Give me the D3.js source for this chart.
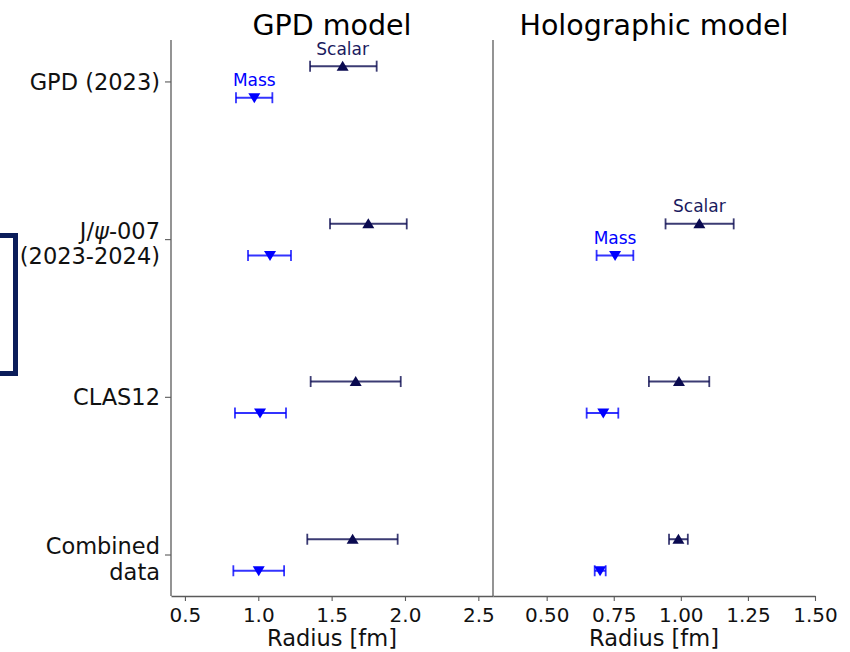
<!DOCTYPE html>
<html>
<head>
<meta charset="utf-8">
<script src="https://cdn.jsdelivr.net/npm/d3@7"></script>
<style>
  html, body { margin: 0; padding: 0; background: #fff; }
  text { font-family: "DejaVu Sans", sans-serif; }
</style>
</head>
<body>
<svg id="chart" width="850" height="652"></svg>
<script>
// ---------- data ----------
const categories = ["GPD (2023)", "J/ψ-007|(2023-2024)", "CLAS12", "Combined|data"];
const catIndex = [3, 2, 1, 0];

const gpdScalar   = [1.575, 1.750, 1.664, 1.643];
const gpdScalarLo = [1.353, 1.489, 1.357, 1.334];
const gpdScalarHi = [1.807, 2.012, 1.971, 1.950];
const gpdMass     = [0.973, 1.080, 1.012, 1.003];
const gpdMassLo   = [0.848, 0.930, 0.841, 0.830];
const gpdMassHi   = [1.096, 1.223, 1.189, 1.176];

const holoScalar   = [null, 1.069, 0.993, 0.991];
const holoScalarLo = [null, 0.943, 0.881, 0.956];
const holoScalarHi = [null, 1.197, 1.106, 1.026];
const holoMass     = [null, 0.755, 0.711, 0.699];
const holoMassLo   = [null, 0.686, 0.649, 0.679];
const holoMassHi   = [null, 0.823, 0.767, 0.720];

const gpdTicks  = [0.5, 1.0, 1.5, 2.0, 2.5];
const holoTicks = [0.5, 0.75, 1.0, 1.25, 1.5];

const panelTitles = ["GPD model", "Holographic model"];
const xLabel = "Radius [fm]";
// annotation: [panel, category row, series]
const annotations = [
  [0, 0, "Scalar"], [0, 0, "Mass"],
  [1, 1, "Scalar"], [1, 1, "Mass"]
];

// ---------- layout ----------
const svg = d3.select("#chart");
const plotTop = 40, plotBottom = 596;
const axisColor = "#5a5a5a";
const scalarColor = "#0a0a50";
const massColor = "#0000ff";
const yOff = 0.1;

const y = d3.scaleLinear().domain([-0.26, 3.266]).range([plotBottom, plotTop]);
const xL = d3.scaleLinear().domain([0.405, 2.6]).range([171, 493]);
const xR = d3.scaleLinear().domain([0.3, 1.5]).range([493, 815]);

// bracket artifact at left edge
svg.append("path")
  .attr("d", "M0,235.5 H15.5 V373.5 H0")
  .attr("fill", "none").attr("stroke", "#0b1d5a").attr("stroke-width", 5);

// spines
svg.append("line").attr("x1", 171).attr("x2", 171).attr("y1", plotTop).attr("y2", plotBottom)
  .attr("stroke", axisColor).attr("stroke-width", 1.3);
svg.append("line").attr("x1", 493).attr("x2", 493).attr("y1", plotTop).attr("y2", plotBottom)
  .attr("stroke", axisColor).attr("stroke-width", 1.3);

function drawXAxis(x, ticks, fmt) {
  const g = svg.append("g").attr("transform", `translate(0,${plotBottom})`)
    .call(d3.axisBottom(x).tickValues(ticks).tickFormat(fmt).tickSize(5).tickSizeOuter(0));
  g.select(".domain").attr("stroke", axisColor).attr("stroke-width", 1.3);
  g.selectAll(".tick line").attr("stroke", axisColor).attr("stroke-width", 1.1);
  g.selectAll(".tick text").attr("font-size", 20).attr("fill", "#111")
    .attr("font-family", "DejaVu Sans").attr("dy", "0").attr("y", 26);
  const [a, b] = x.range();
  svg.append("text").attr("x", (a + b) / 2).attr("y", 646)
    .attr("text-anchor", "middle").attr("font-size", 22.5).attr("fill", "#111").text(xLabel);
}
drawXAxis(xL, gpdTicks, d3.format(".1f"));
drawXAxis(xR, holoTicks, d3.format(".2f"));

// y ticks & category labels (left panel)
catIndex.forEach((ci, i) => {
  const yy = y(ci);
  svg.append("line").attr("x1", 165).attr("x2", 171).attr("y1", yy).attr("y2", yy)
    .attr("stroke", axisColor).attr("stroke-width", 1.1);
  const lines = categories[i].split("|");
  const t = svg.append("text").attr("text-anchor", "end").attr("font-size", 22.5).attr("fill", "#111");
  if (lines.length === 1) {
    t.attr("x", 160).attr("y", yy + 8).text(lines[0]);
  } else {
    lines.forEach((ln, k) => {
      const ts = t.append("tspan").attr("x", 160).attr("y", yy - 1 + k * 25.5);
      if (ln.includes("ψ")) {
        const parts = ln.split("ψ");
        ts.append("tspan").text(parts[0]);
        ts.append("tspan").attr("font-style", "italic").text("ψ");
        ts.append("tspan").text(parts[1]);
      } else ts.text(ln);
    });
  }
});

// titles
[[xL, panelTitles[0]], [xR, panelTitles[1]]].forEach(([x, t]) => {
  const [a, b] = x.range();
  svg.append("text").attr("x", (a + b) / 2).attr("y", 35).attr("text-anchor", "middle")
    .attr("font-size", 28.5).attr("fill", "#000").text(t);
});

// markers
const triUp = "M0,-5.5 L6,4.5 L-6,4.5 Z";
const triDown = "M0,5.5 L6,-4.5 L-6,-4.5 Z";

function drawSeries(x, vals, lo, hi, off, color, shape) {
  vals.forEach((v, i) => {
    if (v === null) return;
    const yy = y(catIndex[i] + off);
    const g = svg.append("g");
    g.append("line").attr("x1", x(lo[i])).attr("x2", x(hi[i])).attr("y1", yy).attr("y2", yy)
      .attr("stroke", color).attr("stroke-width", 2).attr("stroke-opacity", 0.8);
    [lo[i], hi[i]].forEach(e => {
      g.append("line").attr("x1", x(e)).attr("x2", x(e)).attr("y1", yy - 5.5).attr("y2", yy + 5.5)
        .attr("stroke", color).attr("stroke-width", 1.8).attr("stroke-opacity", 0.8);
    });
    g.append("path").attr("d", shape).attr("transform", `translate(${x(v)},${yy})`).attr("fill", color);
  });
}
drawSeries(xL, gpdScalar, gpdScalarLo, gpdScalarHi, yOff, scalarColor, triUp);
drawSeries(xL, gpdMass, gpdMassLo, gpdMassHi, -yOff, massColor, triDown);
drawSeries(xR, holoScalar, holoScalarLo, holoScalarHi, yOff, scalarColor, triUp);
drawSeries(xR, holoMass, holoMassLo, holoMassHi, -yOff, massColor, triDown);

// annotations
annotations.forEach(([p, row, s]) => {
  const x = p === 0 ? xL : xR;
  const isScalar = s === "Scalar";
  const vals = p === 0 ? (isScalar ? gpdScalar : gpdMass) : (isScalar ? holoScalar : holoMass);
  const yy = y(catIndex[row] + (isScalar ? yOff : -yOff));
  svg.append("text").attr("x", x(vals[row])).attr("y", yy - 11.5)
    .attr("text-anchor", "middle").attr("font-size", 17)
    .attr("fill", isScalar ? "#1a1a5e" : massColor).text(s);
});
</script>
</body>
</html>
